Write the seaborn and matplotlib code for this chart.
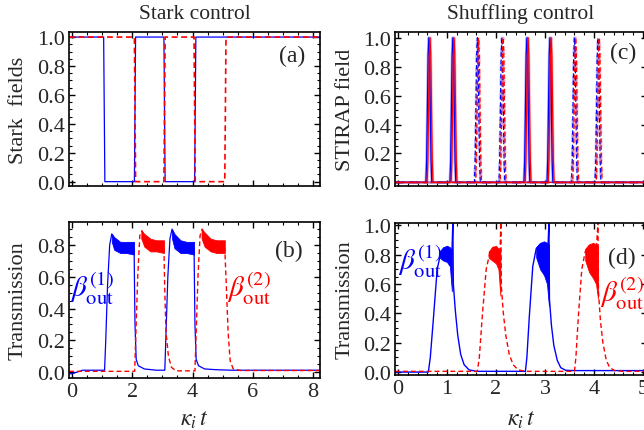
import numpy as np
import pandas as pd
import seaborn as sns
import matplotlib.pyplot as plt
from matplotlib.ticker import MultipleLocator

# =========================
# Data
# =========================
# (a) Stark fields, switching between 1 and 0
stark1_t = [-0.1, 1.05, 1.09, 2.07, 2.11, 3.05, 3.09, 4.07, 4.11, 8.25]
stark1_v = [1.0, 1.0, 0.0, 0.0, 1.0, 1.0, 0.0, 0.0, 1.0, 1.0]
stark2_t = [-0.1, 2.07, 2.11, 3.05, 3.09, 4.05, 4.09, 5.07, 5.11, 8.25]
stark2_v = [1.0, 1.0, 0.0, 0.0, 1.0, 1.0, 0.0, 0.0, 1.0, 1.0]

# (b) transmission under Stark control
trans1_b_t = [-0.1, 0.0, 0.25, 0.35, 1.08, 1.12, 1.18, 1.25, 1.32, 1.4, 1.5, 1.7, 2.06, 2.09,
              2.13, 2.2, 2.4, 2.8, 3.08, 3.12, 3.18, 3.25, 3.32, 3.4, 3.5, 3.7, 4.05, 4.08,
              4.12, 4.2, 4.4, 4.8, 5.3, 8.25]
trans1_b_v = [-0.01, -0.01, 0.005, 0.012, 0.012, 0.2, 0.55, 0.8, 0.87, 0.84, 0.8, 0.78, 0.78, 0.3,
              0.08, 0.04, 0.02, 0.012, 0.012, 0.25, 0.6, 0.84, 0.9, 0.86, 0.82, 0.79, 0.78, 0.3,
              0.08, 0.04, 0.02, 0.015, 0.012, 0.012]
trans2_b_t = [-0.1, 2.08, 2.12, 2.18, 2.25, 2.32, 2.4, 2.5, 2.7, 3.05, 3.08, 3.12, 3.2, 3.3, 3.45,
              4.08, 4.12, 4.18, 4.25, 4.32, 4.4, 4.5, 4.7, 5.07, 5.12, 5.18, 5.25, 5.35, 5.6, 8.25]
trans2_b_v = [0.005, 0.005, 0.25, 0.6, 0.86, 0.89, 0.86, 0.82, 0.79, 0.78, 0.5, 0.25, 0.1, 0.03, 0.008,
              0.008, 0.25, 0.6, 0.86, 0.9, 0.87, 0.83, 0.8, 0.78, 0.55, 0.25, 0.07, 0.02, 0.01, 0.01]
# oscillation envelopes (t, low, high)
band1_b = [([1.32, 1.4, 1.6, 1.8, 2.06], [0.82, 0.77, 0.75, 0.75, 0.74], [0.87, 0.85, 0.82, 0.82, 0.82]),
           ([3.32, 3.4, 3.6, 3.8, 4.05], [0.84, 0.78, 0.75, 0.75, 0.74], [0.9, 0.87, 0.83, 0.82, 0.82])]
band2_b = [([2.3, 2.4, 2.6, 2.8, 3.05], [0.84, 0.79, 0.76, 0.76, 0.75], [0.89, 0.87, 0.84, 0.83, 0.83]),
           ([4.3, 4.4, 4.6, 4.8, 5.07], [0.84, 0.79, 0.76, 0.75, 0.75], [0.9, 0.88, 0.84, 0.83, 0.83])]

# (c) STIRAP pulses
solid_centers = [0.63, 1.12, 2.63, 3.10]
dashed_centers = [1.62, 2.12, 3.60, 4.08]
pulse_dx = [-0.06, -0.045, -0.03, -0.015, 0.0, 0.015, 0.03, 0.045, 0.06]
pulse_shape = [0.0, 0.15, 0.5, 0.88, 1.0, 0.88, 0.5, 0.15, 0.0]
red_shift = 0.025

# (d) transmission under shuffling control
trans1_d_t = [-0.06, 0.62, 0.66, 0.72, 0.8, 0.88, 0.95, 1.05, 1.1, 1.12, 1.13, 1.17, 1.22, 1.28,
              1.35, 1.45, 1.6, 2.6, 2.63, 2.68, 2.75, 2.82, 2.9, 3.0, 3.06, 3.08, 3.09, 3.13,
              3.18, 3.25, 3.32, 3.42, 3.6, 5.1]
trans1_d_v = [0.0, 0.0, 0.1, 0.35, 0.7, 0.82, 0.84, 0.83, 0.8, 1.02, 0.6, 0.42, 0.25, 0.12,
              0.05, 0.015, 0.005, 0.005, 0.1, 0.38, 0.72, 0.84, 0.87, 0.87, 0.85, 1.02, 0.5, 0.32,
              0.18, 0.08, 0.03, 0.012, 0.01, 0.01]
trans2_d_t = [-0.06, 1.62, 1.66, 1.72, 1.8, 1.88, 1.95, 2.05, 2.08, 2.1, 2.11, 2.15, 2.2, 2.27,
              2.35, 2.45, 2.6, 3.6, 3.63, 3.68, 3.75, 3.82, 3.9, 4.0, 4.05, 4.08, 4.09, 4.13,
              4.18, 4.25, 4.32, 4.42, 4.6, 5.1]
trans2_d_v = [0.005, 0.005, 0.1, 0.38, 0.7, 0.82, 0.85, 0.84, 0.8, 1.02, 0.58, 0.4, 0.25, 0.12,
              0.05, 0.015, 0.005, 0.005, 0.1, 0.38, 0.7, 0.82, 0.86, 0.86, 0.85, 1.02, 0.55, 0.35,
              0.2, 0.08, 0.03, 0.01, 0.005, 0.005]
band1_d = [([0.85, 0.92, 1.0, 1.06, 1.1], [0.78, 0.76, 0.75, 0.72, 0.55], [0.82, 0.85, 0.86, 0.85, 0.83]),
           ([2.82, 2.9, 2.98, 3.04, 3.08], [0.78, 0.7, 0.66, 0.6, 0.45], [0.85, 0.88, 0.89, 0.88, 0.87])]
band2_d = [([1.85, 1.92, 2.0, 2.05, 2.09], [0.78, 0.76, 0.74, 0.7, 0.52], [0.82, 0.85, 0.86, 0.84, 0.82]),
           ([3.82, 3.9, 3.98, 4.04, 4.08], [0.76, 0.68, 0.64, 0.6, 0.5], [0.84, 0.87, 0.88, 0.87, 0.86])]

BLUE = "#0000ff"
RED = "#ff0000"
DASH = (0, (3.5, 2.2))

# =========================
# Style
# =========================
sns.set_style("ticks")
plt.rcParams["font.family"] = ["Liberation Serif", "DejaVu Serif"]
plt.rcParams["mathtext.fontset"] = "stix"
plt.rcParams["axes.linewidth"] = 1.2

fig = plt.figure(figsize=(6.44, 4.31), dpi=100)
ax_a = fig.add_axes([69 / 644, 1 - 187 / 431, 251 / 644, 154 / 431])
ax_b = fig.add_axes([69 / 644, 1 - 379 / 431, 251 / 644, 156 / 431])
ax_c = fig.add_axes([395 / 644, 1 - 187 / 431, 252 / 644, 154 / 431])
ax_d = fig.add_axes([395 / 644, 1 - 376 / 431, 252 / 644, 152 / 431])


def line(ax, t, v, color, ls="-", lw=1.0, alpha=1.0):
    df = pd.DataFrame({"t": t, "v": v})
    sns.lineplot(data=df, x="t", y="v", ax=ax, color=color, linestyle=ls, lw=lw,
                 alpha=alpha, estimator=None, sort=False)


def bands(ax, blist, color):
    for t, lo, hi in blist:
        ax.fill_between(t, lo, hi, color=color, lw=0.6, edgecolor=color)


def pulse_train(centers, shift):
    t, v = [-0.06], [0.0]
    for c in centers:
        for dx, s in zip(pulse_dx, pulse_shape):
            t.append(c + shift + dx)
            v.append(s)
    t.append(5.1)
    v.append(0.0)
    return t, v


# (a)
line(ax_a, stark1_t, stark1_v, BLUE, lw=0.9)
line(ax_a, stark2_t, stark2_v, RED, ls=DASH, lw=1.2)

# (b)
bands(ax_b, band1_b, BLUE)
bands(ax_b, band2_b, RED)
line(ax_b, trans1_b_t, trans1_b_v, BLUE, lw=0.9)
line(ax_b, trans2_b_t, trans2_b_v, RED, ls=DASH, lw=1.0)

# (c)
bs_t, bs_v = pulse_train(solid_centers, 0.0)
rs_t, rs_v = pulse_train(solid_centers, red_shift)
bd_t, bd_v = pulse_train(dashed_centers, 0.0)
rd_t, rd_v = pulse_train(dashed_centers, red_shift)
line(ax_c, bs_t, bs_v, BLUE, lw=2.0, alpha=0.3)
line(ax_c, rs_t, rs_v, RED, lw=2.0, alpha=0.3)
line(ax_c, bd_t, bd_v, BLUE, ls=DASH, lw=1.8, alpha=0.3)
line(ax_c, rd_t, rd_v, RED, ls=DASH, lw=1.8, alpha=0.3)
line(ax_c, bs_t, bs_v, BLUE, lw=0.9)
line(ax_c, rs_t, rs_v, RED, lw=0.9)
line(ax_c, bd_t, bd_v, BLUE, ls=DASH, lw=0.9)
line(ax_c, rd_t, rd_v, RED, ls=DASH, lw=0.9)

# (d)
bands(ax_d, band1_d, BLUE)
bands(ax_d, band2_d, RED)
line(ax_d, trans1_d_t, trans1_d_v, BLUE, lw=1.0)
line(ax_d, trans2_d_t, trans2_d_v, RED, ls=DASH, lw=1.0)

# =========================
# Axes formatting
# =========================
ax_a.set_xlim(-0.1, 8.23)
ax_b.set_xlim(-0.1, 8.23)
ax_a.set_ylim(-0.03, 1.035)
ax_b.set_ylim(-0.037, 0.945)
ax_c.set_xlim(-0.06, 5.08)
ax_d.set_xlim(-0.06, 5.08)
ax_c.set_ylim(-0.025, 1.04)
ax_d.set_ylim(-0.02, 1.015)

for ax in (ax_a, ax_b):
    ax.xaxis.set_major_locator(MultipleLocator(2))
    ax.xaxis.set_minor_locator(MultipleLocator(0.5))
for ax in (ax_c, ax_d):
    ax.xaxis.set_major_locator(MultipleLocator(1))
    ax.xaxis.set_minor_locator(MultipleLocator(0.2))
for ax in (ax_a, ax_b, ax_c, ax_d):
    ax.yaxis.set_major_locator(MultipleLocator(0.2))
    ax.yaxis.set_minor_locator(MultipleLocator(0.05))
    ax.yaxis.set_major_formatter(lambda v, p: f"{v:.1f}")
    ax.tick_params(which="both", direction="in", top=True, right=True,
                   labelsize=16, pad=3, color="black")
    ax.tick_params(which="major", length=4, width=1.0)
    ax.tick_params(which="minor", length=2, width=0.8)
    ax.set_xlabel("")
    ax.set_ylabel("")
    for s in ax.spines.values():
        s.set_color("black")

for ax in (ax_a, ax_c):
    ax.tick_params(labelbottom=False)

ax_a.set_title("Stark control", fontsize=15.5, pad=10)
ax_c.set_title("Shuffling control", fontsize=15.5, pad=10)

ax_a.set_ylabel("Stark  fields", fontsize=16)
ax_b.set_ylabel("Transmission", fontsize=16)
ax_c.set_ylabel("STIRAP field", fontsize=16)
ax_d.set_ylabel("Transmission", fontsize=16)
ax_a.yaxis.set_label_coords(-0.165, 0.5)
ax_b.yaxis.set_label_coords(-0.165, 0.5)
ax_c.yaxis.set_label_coords(-0.16, 0.5)
ax_d.yaxis.set_label_coords(-0.16, 0.5)

ax_b.set_xlabel(r"$\kappa_i\, t$", fontsize=17)
ax_d.set_xlabel(r"$\kappa_i\, t$", fontsize=17)
ax_b.xaxis.set_label_coords(0.5, -0.2)
ax_d.xaxis.set_label_coords(0.5, -0.225)

ax_a.text(0.887, 0.85, "(a)", transform=ax_a.transAxes, fontsize=17, ha="center", va="center")
ax_b.text(0.876, 0.816, "(b)", transform=ax_b.transAxes, fontsize=17, ha="center", va="center")
ax_c.text(0.905, 0.868, "(c)", transform=ax_c.transAxes, fontsize=17, ha="center", va="center")
ax_d.text(0.90, 0.776, "(d)", transform=ax_d.transAxes, fontsize=17, ha="center", va="center")

ax_b.text(-0.06, 0.535, r"$\beta_{\mathrm{out}}^{(1)}$", color=BLUE, fontsize=21, ha="left", va="center")
ax_b.text(5.13, 0.535, r"$\beta_{\mathrm{out}}^{(2)}$", color=RED, fontsize=21, ha="left", va="center")
ax_d.text(0.0, 0.757, r"$\beta_{\mathrm{out}}^{(1)}$", color=BLUE, fontsize=21, ha="left", va="center")
ax_d.text(4.12, 0.54, r"$\beta_{\mathrm{out}}^{(2)}$", color=RED, fontsize=21, ha="left", va="center")

plt.savefig("out.png", dpi=100)
plt.close()
